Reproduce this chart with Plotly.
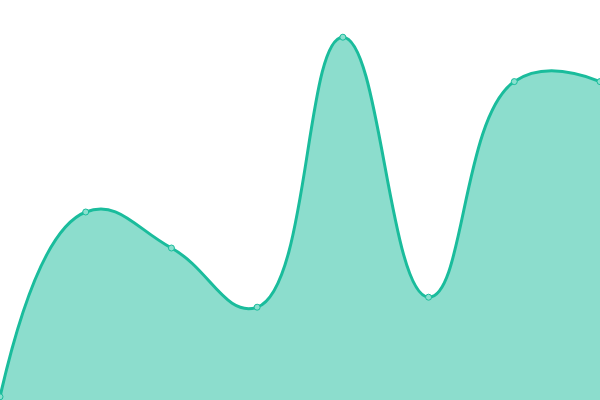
import plotly.graph_objects as go

x_vals = [0, 1, 2, 3, 4, 5, 6, 7]
y_vals = [0.8, 47, 38, 23.2, 90.7, 25.7, 79.6, 79.6]

line_color = "#1abc9c"
fill_color = "rgba(26,188,156,0.5)"

fig = go.Figure()
fig.add_trace(go.Scatter(
    x=x_vals,
    y=y_vals,
    mode="lines+markers",
    line=dict(color=line_color, width=3, shape="spline", smoothing=1.3),
    marker=dict(size=6, color="#8ae0cf", line=dict(color=line_color, width=1)),
    fill="tozeroy",
    fillcolor=fill_color,
    hoverinfo="skip",
))

fig.update_layout(
    width=600,
    height=400,
    margin=dict(l=0, r=0, t=0, b=0),
    paper_bgcolor="white",
    plot_bgcolor="white",
    showlegend=False,
)
fig.update_xaxes(visible=False, range=[0, 7])
fig.update_yaxes(visible=False, range=[0, 100])

# page body has a default 8px margin, drop it so the chart fills the window
fig.write_html("out.html", config={"displayModeBar": False},
               post_script="document.body.style.margin='0';")
